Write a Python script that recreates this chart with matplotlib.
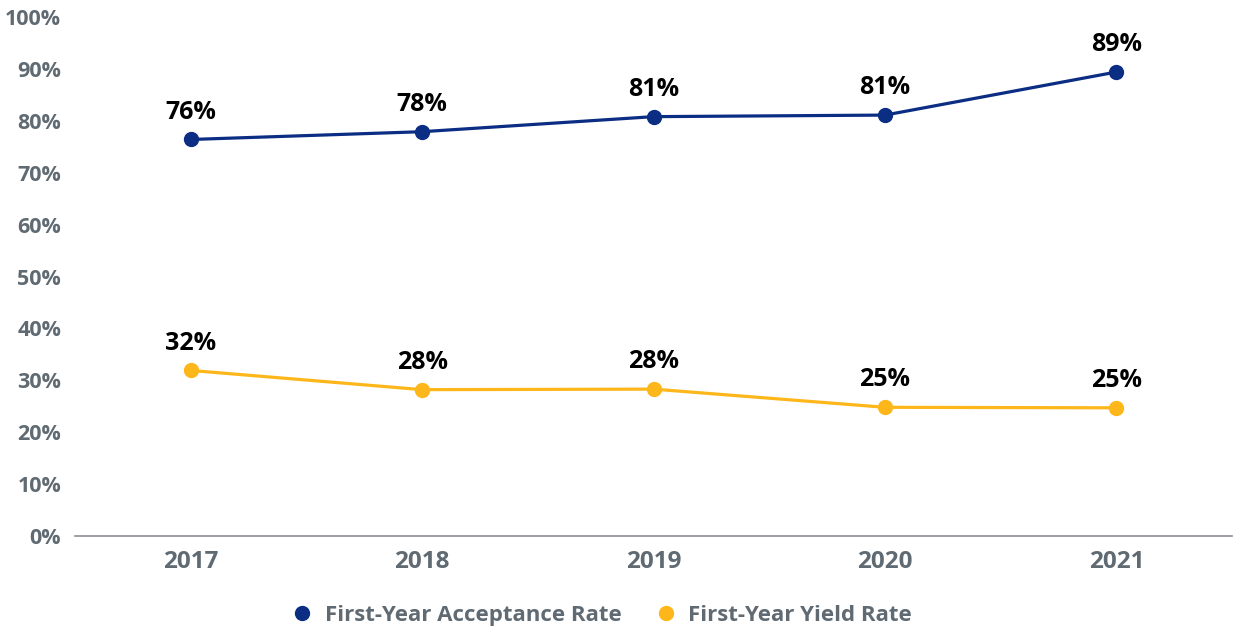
import matplotlib.pyplot as plt

# Data
years = ['2017', '2018', '2019', '2020', '2021']
acceptance = [76.4, 77.9, 80.8, 81.1, 89.4]
acceptance_labels = ['76%', '78%', '81%', '81%', '89%']
yield_rate = [31.9, 28.2, 28.3, 24.8, 24.7]
yield_labels = ['32%', '28%', '28%', '25%', '25%']

navy = '#0b2d83'
gold = '#fdb71a'
gray_text = '#5f6a72'

plt.rcParams['font.family'] = ['Open Sans', 'DejaVu Sans']
plt.rcParams['font.weight'] = 'bold'

fig = plt.figure(figsize=(12.35, 6.27), dpi=100)
ax = fig.add_axes([0.0607, 0.1451, 0.937, 0.8278])

x = range(len(years))
ax.plot(x, acceptance, color=navy, linewidth=2.3, marker='o', markersize=10,
        label='First-Year Acceptance Rate')
ax.plot(x, yield_rate, color=gold, linewidth=2.3, marker='o', markersize=10,
        label='First-Year Yield Rate')

for i in x:
    ax.annotate(acceptance_labels[i], (i, acceptance[i]), xytext=(0, 15),
                textcoords='offset points', ha='center', va='baseline',
                fontsize=18, fontweight='bold', color='black')
    ax.annotate(yield_labels[i], (i, yield_rate[i]), xytext=(0, 15),
                textcoords='offset points', ha='center', va='baseline',
                fontsize=18, fontweight='bold', color='black')

ax.set_xlim(-0.5, 4.5)
ax.set_ylim(0, 100)
ax.set_xticks(list(x))
ax.set_xticklabels(years)
ax.set_yticks(range(0, 101, 10))
ax.set_yticklabels([f'{v}%' for v in range(0, 101, 10)])
ax.tick_params(axis='both', length=0, labelsize=15.5, labelcolor=gray_text)
ax.tick_params(axis='x', pad=10, labelsize=17.5)
ax.tick_params(axis='y', pad=10)

for s in ['top', 'right', 'left']:
    ax.spines[s].set_visible(False)
ax.spines['bottom'].set_color('#8a8f94')
ax.spines['bottom'].set_linewidth(1.2)

fig.legend(loc='center', bbox_to_anchor=(0.487, 0.019), ncol=2, frameon=False,
           fontsize=16, labelcolor=gray_text, handlelength=1.0, handletextpad=0.5,
           columnspacing=1.5)
for h in fig.legends[0].legend_handles:
    h.set_linestyle('None')

fig.savefig('out.png', dpi=100)
